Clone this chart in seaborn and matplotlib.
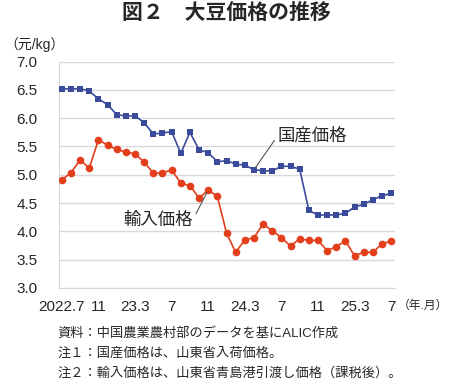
import pandas as pd
import seaborn as sns
import matplotlib.pyplot as plt

# monthly prices, 2022.7 - 2025.7 (yuan/kg)
domestic = [6.52, 6.52, 6.52, 6.48, 6.34, 6.24, 6.06, 6.04, 6.04, 5.92,
            5.72, 5.74, 5.76, 5.38, 5.75, 5.44, 5.39, 5.23, 5.25, 5.19,
            5.17, 5.09, 5.07, 5.07, 5.15, 5.15, 5.10, 4.37, 4.29, 4.29,
            4.29, 4.32, 4.43, 4.48, 4.56, 4.63, 4.67]
imported = [4.91, 5.04, 5.26, 5.12, 5.62, 5.52, 5.45, 5.40, 5.37, 5.22,
            5.03, 5.03, 5.09, 4.85, 4.81, 4.59, 4.73, 4.62, 3.97, 3.63,
            3.85, 3.89, 4.13, 4.01, 3.89, 3.74, 3.87, 3.84, 3.84, 3.66,
            3.73, 3.83, 3.57, 3.63, 3.63, 3.78, 3.83]
tick_pos = [0, 4, 8, 12, 16, 20, 24, 28, 32, 36]
tick_labels = ['2022.7', '11', '23.3', '7', '11', '24.3', '7', '11', '25.3', '7']
notes = ['資料：中国農業農村部のデータを基にALIC作成',
         '注１：国産価格は、山東省入荷価格。',
         '注２：輸入価格は、山東省青島港引渡し価格（課税後）。']

df = pd.DataFrame({'month': range(len(domestic)), 'domestic': domestic, 'imported': imported})

sns.set_style('white')
plt.rcParams['font.family'] = ['Liberation Sans', 'Noto Sans CJK JP']

fig = plt.figure(figsize=(4.5, 3.85), dpi=100)
ax = fig.add_axes([0.13, 0.252, 0.748, 0.588])

blue = '#3B4B9C'
red = '#E33F1D'
sns.lineplot(data=df, x='month', y='domestic', ax=ax, color=blue, lw=1.2,
             marker='s', markersize=5, markeredgewidth=0, zorder=3)
sns.lineplot(data=df, x='month', y='imported', ax=ax, color=red, lw=1.2,
             marker='o', markersize=5.5, markeredgewidth=0, zorder=3)

ax.set_ylim(3.0, 7.0)
ax.set_xlim(-0.37, 36.43)
ax.set_yticks([3.0, 3.5, 4.0, 4.5, 5.0, 5.5, 6.0, 6.5, 7.0])
ax.set_yticklabels([f'{v:.1f}' for v in ax.get_yticks()])
ax.set_xticks(tick_pos)
ax.set_xticklabels(tick_labels)
ax.tick_params(axis='both', length=0, labelsize=11)
ax.tick_params(axis='y', pad=15)
ax.tick_params(axis='x', pad=9)
ax.grid(axis='y', color='#D9D9D9', lw=1)
ax.set_axisbelow(True)
for s in ['top', 'right']:
    ax.spines[s].set_visible(False)
for s in ['left', 'bottom']:
    ax.spines[s].set_color('#D9D9D9')
ax.set_xlabel('')
ax.set_ylabel('')

# leader-line labels
ax.annotate('国産価格', xy=(21, 5.09), xytext=(23.6, 5.69), fontsize=12.5,
            va='center', ha='left',
            arrowprops=dict(arrowstyle='-', color='#555555', lw=0.8,
                            shrinkA=0, shrinkB=2, relpos=(0, 0.5)))
ax.annotate('輸入価格', xy=(16, 4.73), xytext=(14.3, 4.20), fontsize=12.5,
            va='center', ha='right',
            arrowprops=dict(arrowstyle='-', color='#555555', lw=0.8,
                            shrinkA=0, shrinkB=2, relpos=(1, 0.5)))

fig.text(0.502, 0.966, '図２　大豆価格の推移', ha='center', va='center',
         fontsize=15, fontweight='bold')
fig.text(0.01, 0.885, '（元/kg）', ha='left', va='center', fontsize=10)
fig.text(0.885, 0.205, '（年.月）', ha='left', va='center', fontsize=8.5)
for i, line in enumerate(notes):
    fig.text(0.127, 0.135 - i * 0.053, line, ha='left', va='center', fontsize=9.5)

fig.savefig('out.png', dpi=100)
